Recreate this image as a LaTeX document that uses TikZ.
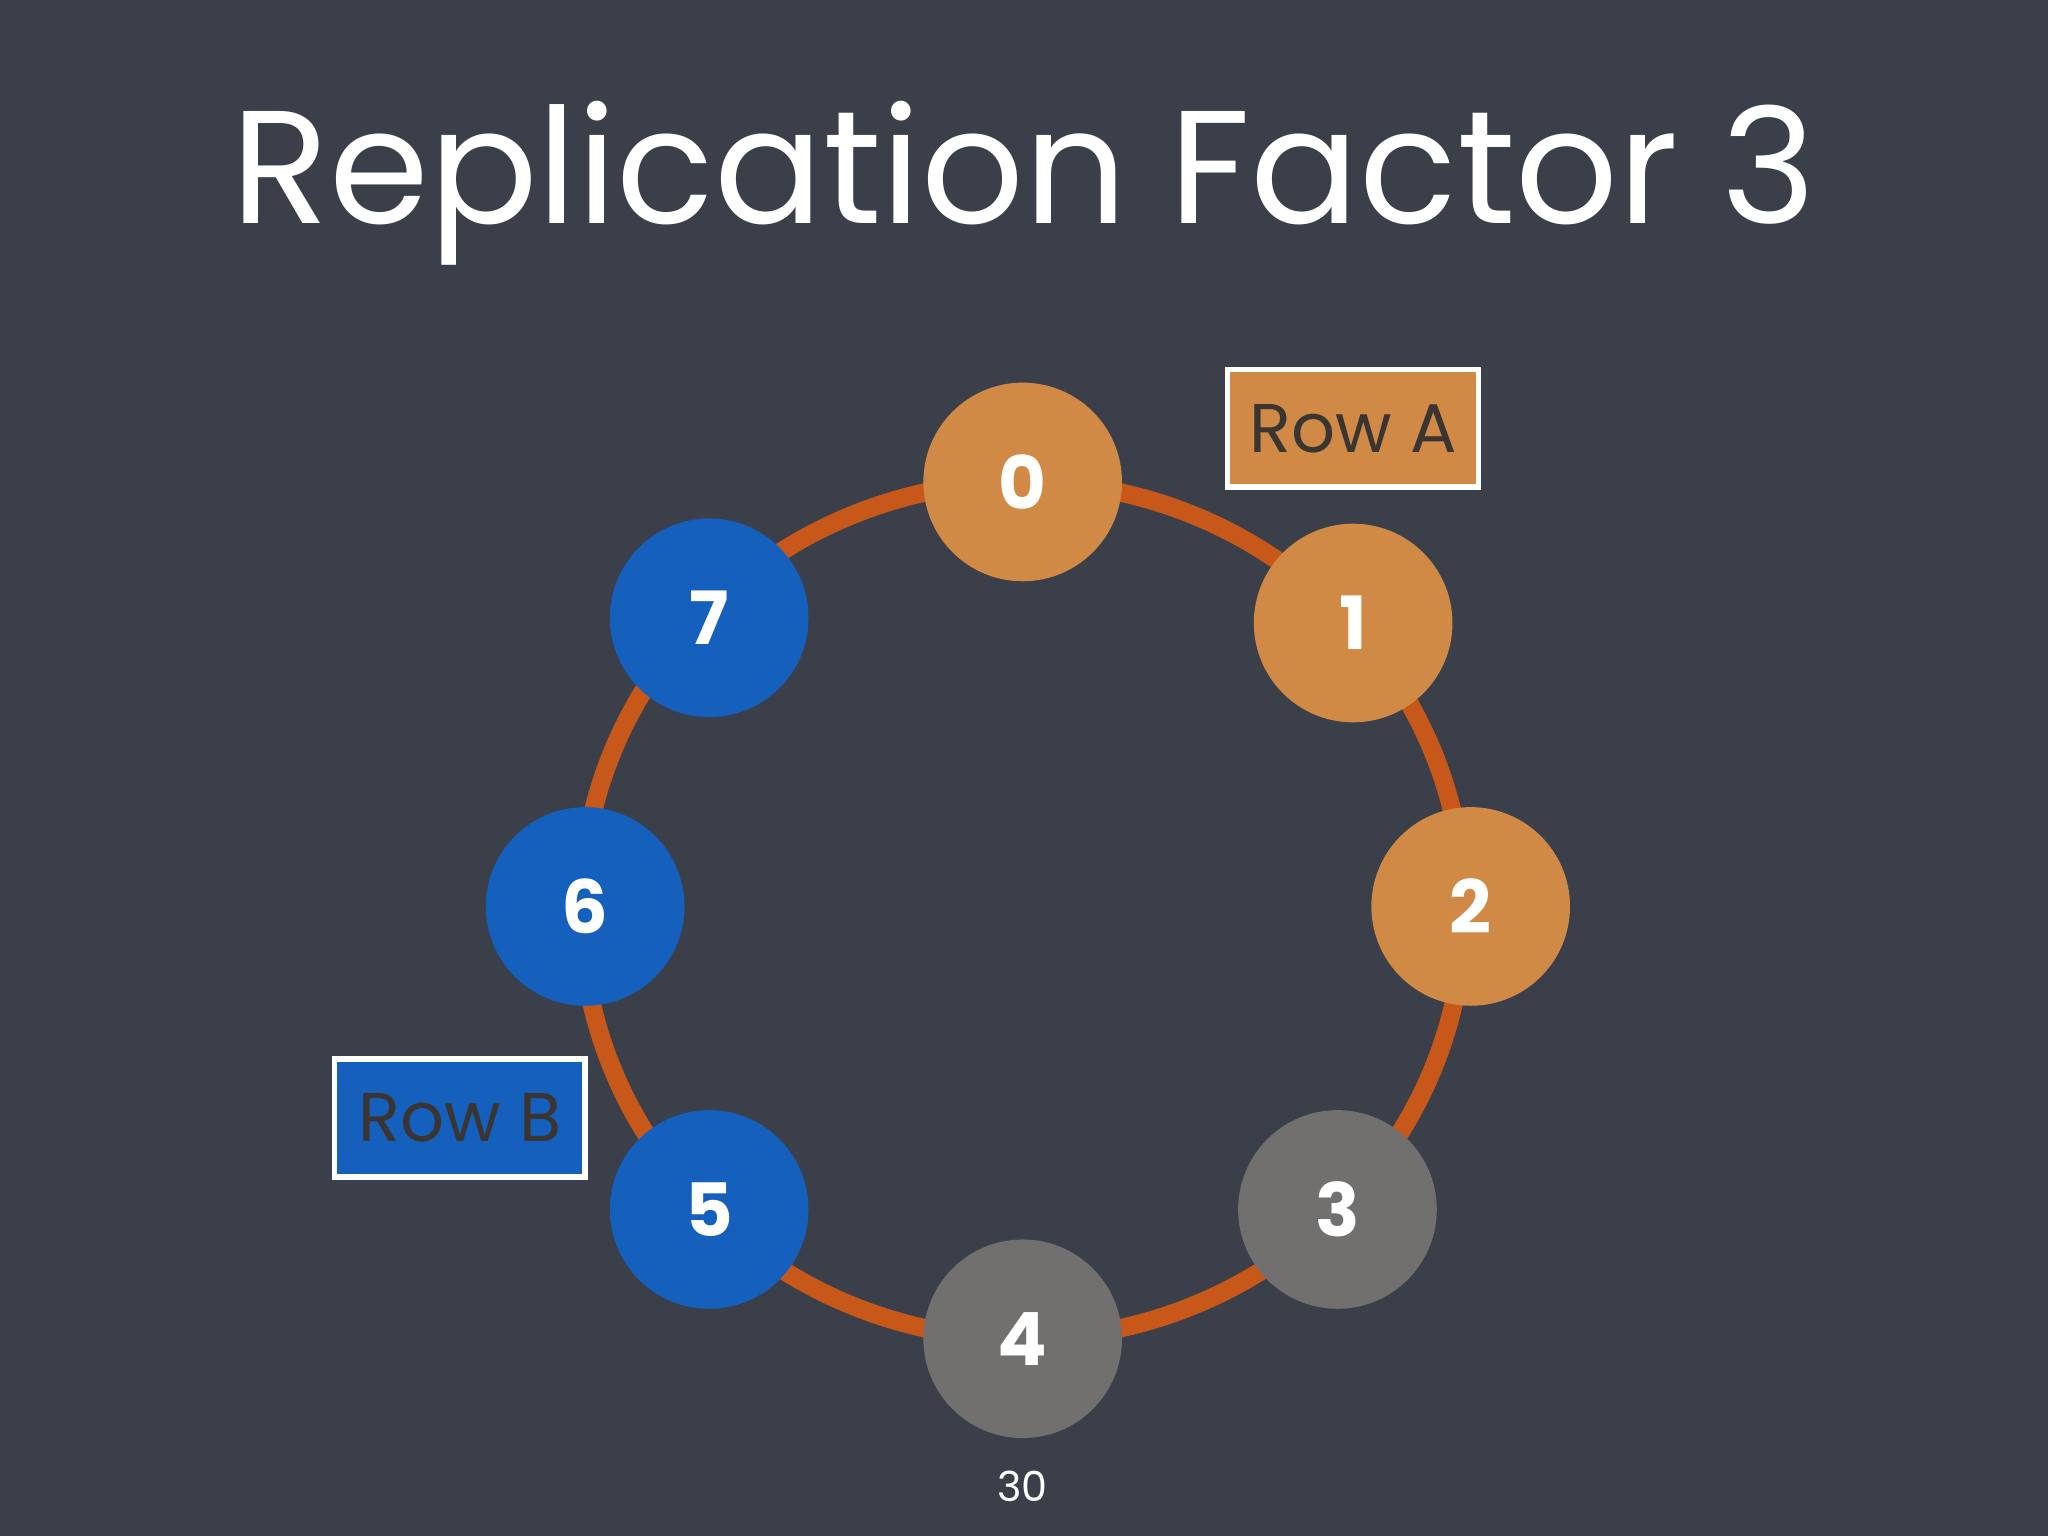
\documentclass[tikz,border=0pt]{standalone}
\usepackage{fontspec}
\setmainfont{Poppins}
\definecolor{bg}{HTML}{3A3F4A}
\definecolor{ring}{HTML}{C8581A}
\definecolor{ora}{HTML}{D08A45}
\definecolor{blu}{HTML}{1560BD}
\definecolor{gry}{HTML}{72706E}
\definecolor{ink}{HTML}{3A3530}
\tikzset{
  tok/.style={circle,minimum size=1.52cm,inner sep=0pt,text=white,font=\fontsize{16}{20}\selectfont\bfseries},
  rowbox/.style={draw=white,line width=1.2pt,minimum width=1.92cm,minimum height=0.9cm,text=ink,font=\fontsize{15}{18}\selectfont}
}
\begin{document}
\begin{tikzpicture}[x=0.01cm,y=-0.01cm]
\fill[bg] (0,0) rectangle (1568,1176);
\useasboundingbox (0,0) rectangle (1568,1176);
\node[text=white,font=\fontsize{35}{40}\selectfont] (title) at (784,140) {Replication Factor 3};
\draw[ring,line width=4pt] (783,697) ellipse [x radius=338, y radius=328];
\node[tok,fill=ora] (n0) at (783,369) {0};
\node[tok,fill=ora] (n1) at (1036,477) {1};
\node[tok,fill=ora] (n2) at (1126,694) {2};
\node[tok,fill=gry] (n3) at (1024,926) {3};
\node[tok,fill=gry] (n4) at (783,1025) {4};
\node[tok,fill=blu] (n5) at (543,926) {5};
\node[tok,fill=blu] (n6) at (448,694) {6};
\node[tok,fill=blu] (n7) at (543,473) {7};
\node[rowbox,fill=ora] (ra) at (1036,328) {Row A};
\node[rowbox,fill=blu] (rb) at (352,856) {Row B};
\node[text=white,font=\fontsize{9}{10}\selectfont] (pg) at (783,1138) {30};
\end{tikzpicture}
\end{document}
